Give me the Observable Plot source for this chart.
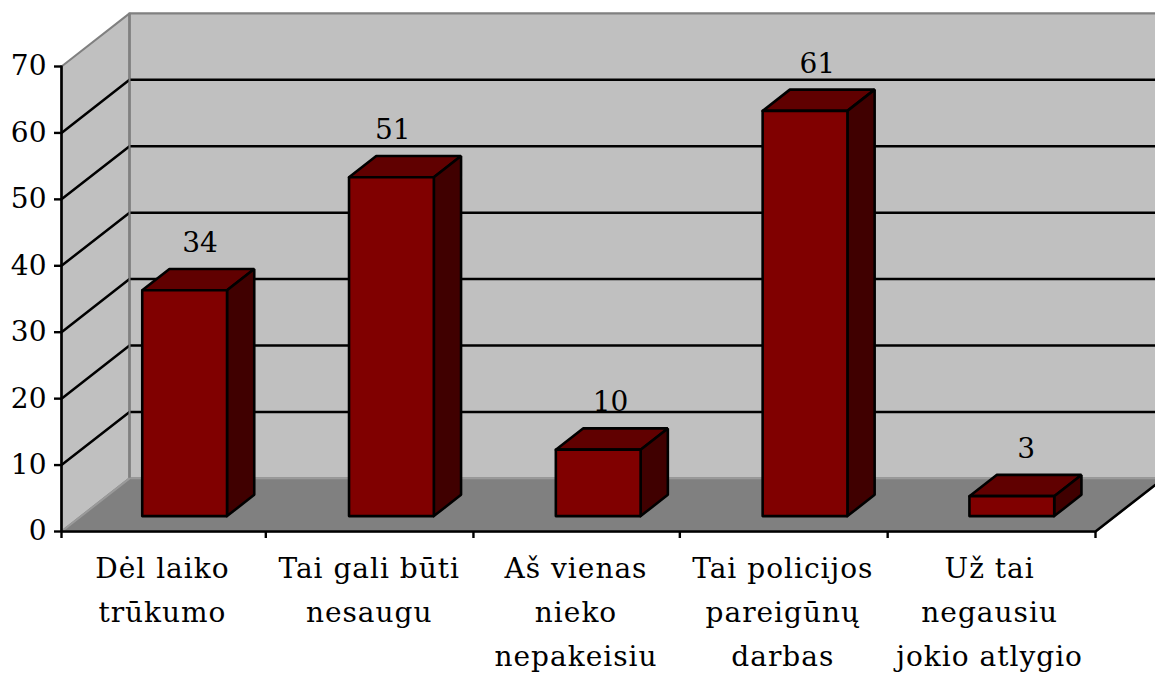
<!DOCTYPE html>
<html>
<head>
<meta charset="utf-8">
<script src="https://cdn.jsdelivr.net/npm/d3@7"></script>
<script src="https://cdn.jsdelivr.net/npm/@observablehq/plot@0.6"></script>
<style>html,body{margin:0;padding:0;background:#fff;overflow:hidden}
.cat text{letter-spacing:1px}</style>
</head>
<body>
<div id="chart"></div>
<script>
const categories = ["Dėl laiko\ntrūkumo", "Tai gali būti\nnesaugu", "Aš vienas\nnieko\nnepakeisiu", "Tai policijos\npareigūnų\ndarbas", "Už tai\nnegausiu\njokio atlygio"];
const values = [34, 51, 10, 61, 3];
const yTicks = [0, 10, 20, 30, 40, 50, 60, 70];
const gridValues = [10, 20, 30, 40, 50, 60];
const xTicks = [0, 0.988, 1.992, 2.99, 3.995, 5];

// Oblique depth of the 3-D box, in data units of each scale
const depthX = 0.329, depthY = 8;
const barWidth = 0.41, depthNear = 0.29, depthFar = 0.69;
const xMax = categories.length, yMax = 70;
const labelNudge = [0.005, -0.063, -0.01, -0.01, 0];

const P = (x, y, d = 0) => ({x: x + d * depthX, y: y + d * depthY});
const poly = (id, pts) => [...pts, pts[0]].map(p => ({...p, id}));
const path = (id, pts) => pts.map(p => ({...p, id}));

const wall = poly("back", [P(0, 0, 1), P(xMax, 0, 1), P(xMax, yMax, 1), P(0, yMax, 1)]);
const sideWall = poly("side", [P(0, 0, 0), P(0, 0, 1), P(0, yMax, 1), P(0, yMax, 0)]);
const floor = poly("floor", [P(0, 0, 0), P(xMax, 0, 0), P(xMax, 0, 1), P(0, 0, 1)]);
const grid = gridValues.flatMap(v => path(v, [P(0, v, 0), P(0, v, 1), P(xMax, v, 1)]));

const fronts = [], tops = [], sides = [];
values.forEach((v, i) => {
  const a = i + 0.5 - barWidth / 2, b = i + 0.5 + barWidth / 2;
  fronts.push(...poly(i, [P(a, 0, depthNear), P(b, 0, depthNear), P(b, v, depthNear), P(a, v, depthNear)]));
  tops.push(...poly(i, [P(a, v, depthNear), P(b, v, depthNear), P(b, v, depthFar), P(a, v, depthFar)]));
  sides.push(...poly(i, [P(b, 0, depthNear), P(b, 0, depthFar), P(b, v, depthFar), P(b, v, depthNear)]));
});
const valueLabels = values.map((v, i) => ({...P(i + 0.5, v, depthFar), sx: P(i + 0.5 + labelNudge[i], v, 0.5).x, v}));
const catLabels = categories.map((c, i) => ({x: i + 0.488, c}));

const face = (data, fill, stroke, strokeWidth) =>
  Plot.line(data, {x: "x", y: "y", z: "id", fill, stroke, strokeWidth, strokeLinejoin: "miter", curve: "linear"});

const chart = Plot.plot({
  width: 1155,
  height: 675,
  marginLeft: 61, marginRight: 60, marginTop: 66, marginBottom: 144,
  style: {fontFamily: "'DejaVu Serif', serif", background: "#fff"},
  x: {type: "linear", domain: [0, xMax], axis: null},
  y: {type: "linear", domain: [0, yMax], axis: null},
  marks: [
    face(sideWall, "#c0c0c0", "#808080", 2),
    face(wall, "#c0c0c0", "#808080", 2.4),
    face(floor, "#808080", "#9a9a9a", 2),
    face(grid, "none", "#000", 2.5),
    Plot.ruleX([0], {x: 0 + depthX, y1: 0 + depthY, y2: yMax + depthY, stroke: "#808080", strokeWidth: 2}),
    face(path("ax", [P(0, yMax), P(0, 0), P(xMax, 0), P(xMax, 0, 1)]), "none", "#000", 2.6),
    Plot.axisY({ticks: yTicks, tickSize: 7, tickPadding: 8, strokeWidth: 2.4, stroke: "#000", fontSize: 28, fill: "#000", label: null}),
    Plot.axisX({ticks: xTicks, tickSize: 7, strokeWidth: 2.4, stroke: "#000", tickFormat: () => "", label: null}),
    face(tops, "#600000", "#000", 2.6),
    face(sides, "#400000", "#000", 2.6),
    face(fronts, "#800000", "#000", 2.6),
    Plot.text(valueLabels, {x: "sx", y: "y", text: "v", dy: -17, lineAnchor: "bottom", fontSize: 28, fill: "#000"}),
    Plot.text(catLabels, {x: "x", y: () => 0, text: "c", dy: 15, lineAnchor: "top", lineHeight: 1.58, fontSize: 28, fill: "#000", className: "cat"})
  ]
});
document.getElementById("chart").appendChild(chart);
</script>
</body>
</html>
